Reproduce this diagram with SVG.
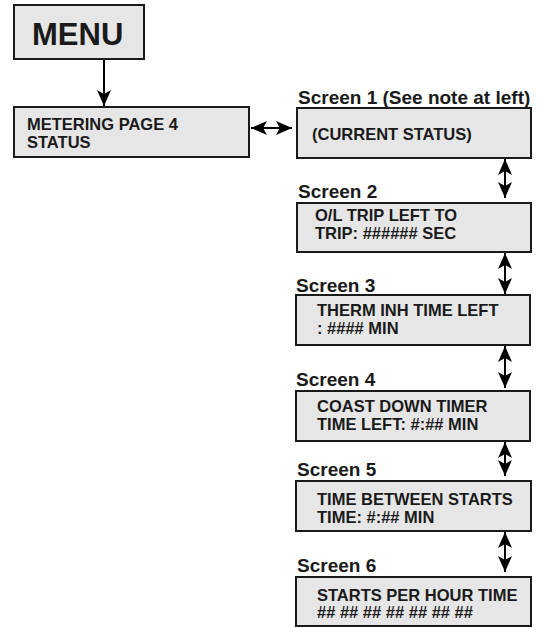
<svg xmlns="http://www.w3.org/2000/svg" width="538" height="628" viewBox="0 0 538 628">
<style>
.box{fill:#e6e6e6;stroke:#1a1a1a;stroke-width:2}
.t{font-family:"Liberation Sans",Arial,sans-serif;font-weight:bold;fill:#1a1a1a}
.b{font-size:16.5px}
.lbl{font-size:19px}
.ln{stroke:#000;stroke-width:2;fill:none}
</style>
<defs>
<marker id="ah" viewBox="0 0 16 14" refX="16" refY="7" markerWidth="16" markerHeight="14" markerUnits="userSpaceOnUse" orient="auto-start-reverse">
<path d="M0,0 L16,7 L0,14 L4,7 Z" fill="#000"/>
</marker>
</defs>
<rect width="538" height="628" fill="#fff"/>
<g id="menu">
<rect class="box" x="14" y="5" width="130" height="54"/>
<text class="t" x="32" y="45" font-size="31">MENU</text>
</g>
<g id="metering">
<rect class="box" x="14" y="107" width="235" height="50"/>
<text class="t b" x="27" y="130">METERING PAGE 4</text>
<text class="t b" x="27" y="148">STATUS</text>
</g>
<g id="screen1">
<text class="t lbl" x="298" y="104">Screen 1 (See note at left)</text>
<rect class="box" x="297" y="108" width="234" height="50"/>
<text class="t b" x="312" y="140">(CURRENT STATUS)</text>
</g>
<g id="screen2">
<text class="t lbl" x="298" y="198">Screen 2</text>
<rect class="box" x="297" y="203" width="234" height="49"/>
<text class="t b" x="315" y="221">O/L TRIP LEFT TO</text>
<text class="t b" x="315" y="239">TRIP: ###### SEC</text>
</g>
<g id="screen3">
<text class="t lbl" x="296" y="292">Screen 3</text>
<rect class="box" x="296" y="295" width="234" height="50"/>
<text class="t b" x="317" y="316">THERM INH TIME LEFT</text>
<text class="t b" x="317" y="334">: #### MIN</text>
</g>
<g id="screen4">
<text class="t lbl" x="296" y="386">Screen 4</text>
<rect class="box" x="296" y="391" width="234" height="50"/>
<text class="t b" x="317" y="412">COAST DOWN TIMER</text>
<text class="t b" x="317" y="430">TIME LEFT: #:## MIN</text>
</g>
<g id="screen5">
<text class="t lbl" x="297" y="476">Screen 5</text>
<rect class="box" x="296" y="481" width="235" height="50"/>
<text class="t b" x="317" y="505">TIME BETWEEN STARTS</text>
<text class="t b" x="317" y="523">TIME: #:## MIN</text>
</g>
<g id="screen6">
<text class="t lbl" x="297" y="572">Screen 6</text>
<rect class="box" x="296" y="577" width="235" height="49"/>
<text class="t b" x="317" y="601">STARTS PER HOUR TIME</text>
<text class="t b" x="317" y="618">## ## ## ## ## ## ##</text>
</g>
<g id="connectors">
<line class="ln" x1="104" y1="60" x2="104" y2="106" marker-end="url(#ah)"/>
<line class="ln" x1="251" y1="128" x2="292" y2="128" marker-start="url(#ah)" marker-end="url(#ah)"/>
<line class="ln" x1="505" y1="159" x2="505" y2="198" marker-start="url(#ah)" marker-end="url(#ah)"/>
<line class="ln" x1="505" y1="253" x2="505" y2="294" marker-start="url(#ah)" marker-end="url(#ah)"/>
<line class="ln" x1="505" y1="346" x2="505" y2="388" marker-start="url(#ah)" marker-end="url(#ah)"/>
<line class="ln" x1="505" y1="442" x2="505" y2="476" marker-start="url(#ah)" marker-end="url(#ah)"/>
<line class="ln" x1="505" y1="532" x2="505" y2="572" marker-start="url(#ah)" marker-end="url(#ah)"/>
</g>
</svg>
